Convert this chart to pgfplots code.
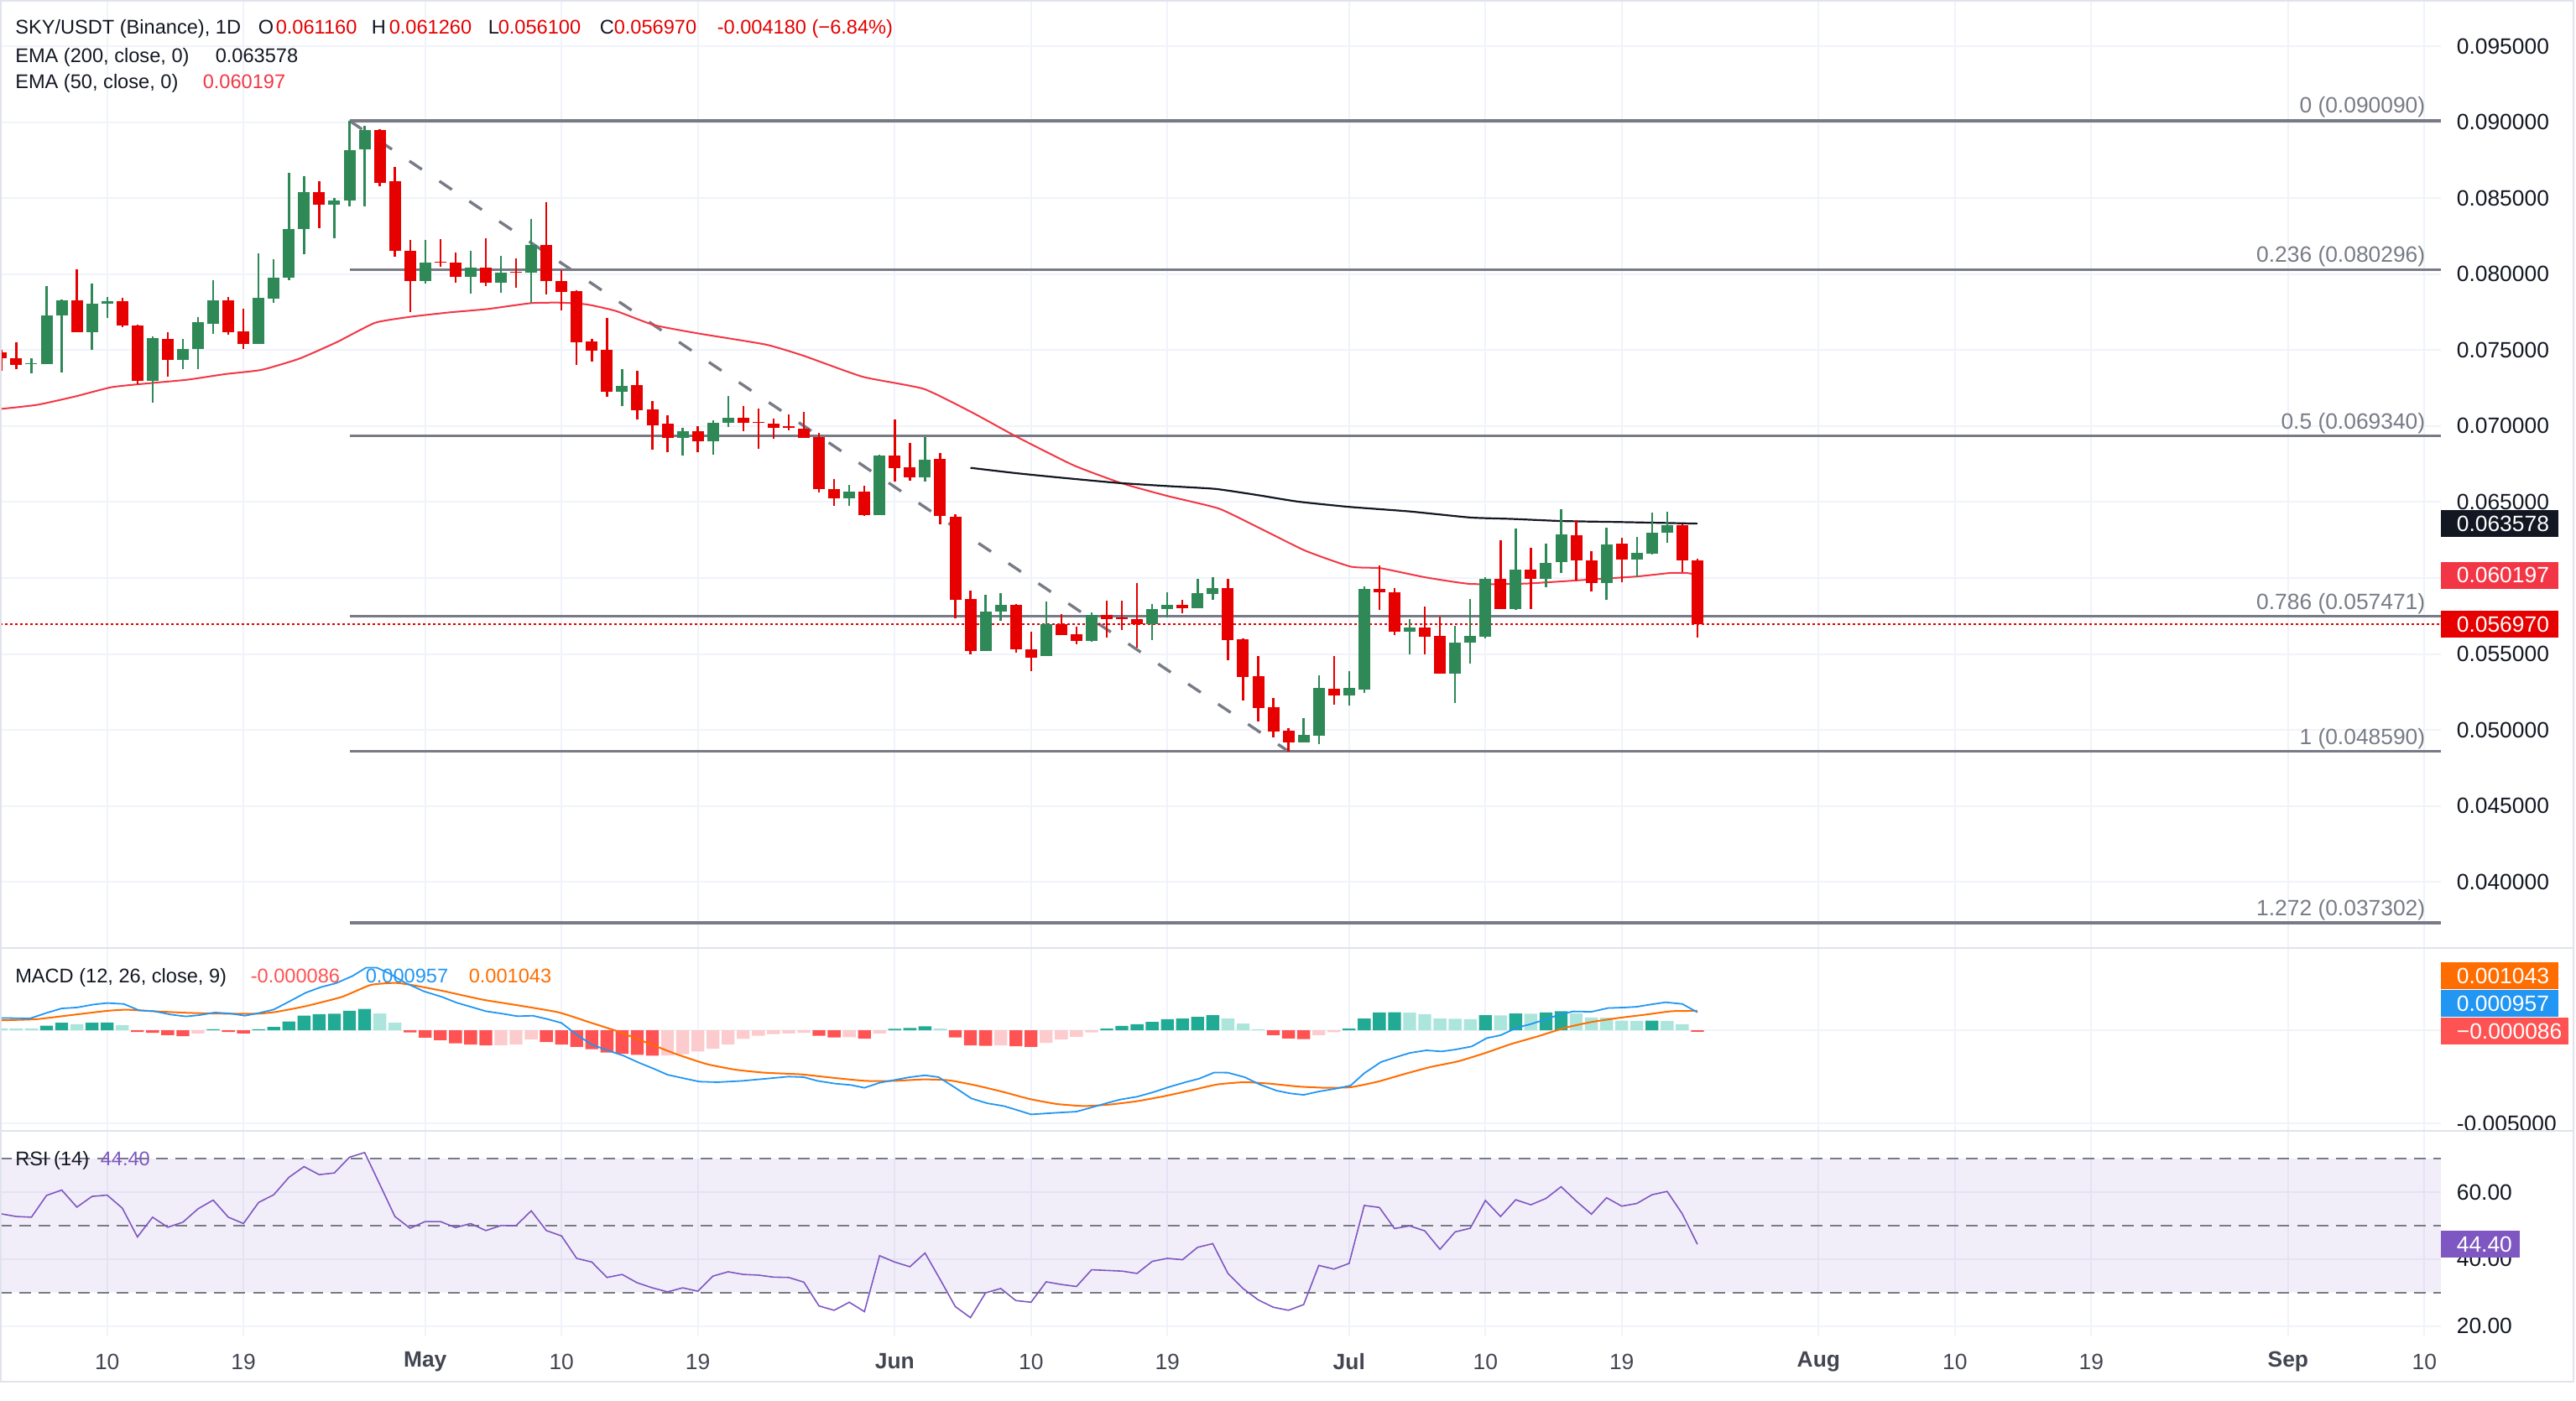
\documentclass[border=0pt]{standalone}
\usepackage{pgfplots}
\pgfplotsset{compat=1.18}
\usepackage{pgfplotstable}
\usepackage{fontspec}
\setmainfont{Liberation Sans}
\definecolor{cUp}{RGB}{46,137,87}
\definecolor{cDn}{RGB}{230,0,0}
\definecolor{cGrid}{RGB}{240,243,250}
\definecolor{cBorder}{RGB}{224,227,235}
\definecolor{cFib}{RGB}{120,123,134}
\definecolor{cText}{RGB}{19,23,34}
\definecolor{cTick}{RGB}{67,70,81}
\definecolor{cEma}{RGB}{242,54,69}
\definecolor{cMacd}{RGB}{33,150,243}
\definecolor{cSig}{RGB}{255,109,0}
\definecolor{cHDG}{RGB}{34,171,148}
\definecolor{cHLG}{RGB}{172,229,220}
\definecolor{cHDR}{RGB}{255,82,82}
\definecolor{cHLR}{RGB}{252,203,205}
\definecolor{cRsi}{RGB}{126,87,194}
\newcommand\lf{\fontsize{5.9}{6.7}\selectfont}
\newcommand\af{\fontsize{6.6}{7.4}\selectfont}

\pgfplotstableread{
d o h l c
5 .07407 .07447 .07346 .07414
6 .07407 .07923 .07407 .07730
7 .07726 .07835 .07355 .07827
9 .07619 .07940 .07499 .07807
10 .07803 .07849 .07709 .07822
13 .07296 .07591 .07153 .07580
15 .07433 .07573 .07374 .07508
16 .07505 .07718 .07374 .07685
17 .07674 .07960 .07606 .07827
20 .07538 .08139 .07538 .07846
21 .07840 .08098 .07809 .07978
22 .07978 .08664 .07960 .08299
23 .08295 .08642 .08129 .08542
25 .08456 .08502 .08235 .08487
26 .08483 .09007 .08445 .08817
27 .08821 .08977 .08445 .08946
31 .07953 .08227 .07936 .08076
34 .07980 .08155 .07870 .08045
36 .07941 .08122 .07875 .08012
38 .08008 .08365 .07812 .08192
44 .07228 .07374 .07130 .07263
48 .06924 .06987 .06808 .06965
50 .06898 .07038 .06813 .07020
51 .07024 .07199 .06996 .07053
59 .06522 .06611 .06476 .06568
61 .06415 .06812 .06415 .06806
64 .06664 .06928 .06636 .06777
68 .05522 .05891 .05517 .05780
69 .05778 .05902 .05716 .05825
72 .05484 .05848 .05484 .05694
75 .05587 .05775 .05581 .05756
79 .05694 .05830 .05594 .05797
80 .05793 .05907 .05738 .05825
82 .05802 .05992 .05802 .05902
83 .05893 .06003 .05858 .05935
89 .04918 .05078 .04918 .04967
90 .04964 .05358 .04908 .05277
92 .05225 .05388 .05163 .05277
93 .05268 .05944 .05244 .05928
96 .05644 .05729 .05495 .05673
99 .05373 .05686 .05179 .05576
100 .05572 .05863 .05434 .05618
101 .05614 .06005 .05605 .05996
103 .05793 .06328 .05788 .06057
105 .05992 .06226 .05941 .06101
106 .06103 .06455 .06031 .06289
109 .05965 .06333 .05854 .06223
111 .06119 .06269 .06005 .06167
112 .06162 .06429 .06156 .06300
113 .06296 .06438 .06230 .06350
}\upT

\pgfplotstableread{
d o h l c
3 .07486 .07499 .07361 .07444
4 .07447 .07554 .07374 .07401
8 .07827 .08034 .07619 .07619
11 .07822 .07844 .07650 .07659
12 .07663 .07669 .07274 .07296
14 .07575 .07617 .07324 .07433
18 .07827 .07849 .07600 .07619
19 .07624 .07772 .07506 .07538
24 .08542 .08609 .08301 .08456
28 .08946 .08952 .08577 .08599
29 .08609 .08708 .08113 .08152
30 .08155 .08227 .07748 .07953
32 .08083 .08233 .08047 .08074
33 .08076 .08144 .07941 .07980
35 .08045 .08236 .07919 .07941
37 .08017 .08106 .07908 .08008
39 .08192 .08476 .07864 .07954
40 .07954 .08026 .07761 .07881
41 .07890 .07895 .07405 .07554
42 .07558 .07573 .07425 .07494
43 .07499 .07711 .07195 .07228
45 .07269 .07361 .07042 .07106
46 .07108 .07164 .06847 .07007
47 .07016 .07071 .06826 .06924
49 .06965 .07001 .06826 .06898
52 .07053 .07130 .06965 .07020
53 .07025 .07116 .06848 .07020
54 .07014 .07051 .06915 .06987
55 .06998 .07075 .06974 .06990
56 .06983 .07094 .06922 .06924
57 .06928 .06955 .06563 .06587
58 .06583 .06651 .06472 .06522
60 .06566 .06605 .06408 .06412
62 .06806 .07044 .06633 .06725
63 .06729 .06891 .06642 .06660
65 .06785 .06822 .06352 .06407
66 .06405 .06420 .05734 .05858
67 .05863 .05919 .05498 .05522
70 .05825 .05830 .05511 .05530
71 .05531 .05648 .05388 .05478
73 .05697 .05764 .05627 .05627
74 .05631 .05677 .05566 .05587
76 .05756 .05852 .05609 .05732
77 .05738 .05852 .05660 .05727
78 .05732 .05968 .05539 .05694
81 .05825 .05858 .05766 .05802
84 .05935 .05996 .05461 .05594
85 .05598 .05605 .05194 .05351
86 .05354 .05489 .05056 .05146
87 .05148 .05211 .04951 .04991
88 .04995 .05014 .04859 .04918
91 .05272 .05487 .05167 .05225
94 .05928 .06083 .05790 .05904
95 .05904 .05931 .05624 .05644
97 .05673 .05812 .05498 .05616
98 .05618 .05745 .05369 .05373
102 .05996 .06250 .05793 .05793
104 .06057 .06200 .05793 .05992
107 .06283 .06383 .05981 .06114
108 .06118 .06178 .05913 .05965
110 .06228 .06267 .05970 .06119
114 .06350 .06355 .06038 .06116
115 .06116 .06126 .05610 .05697
}\dnT

\pgfplotsset{
  pane/.style={
    scale only axis, width=727.25pt, xmin=2.925, xmax=164.09,
    axis line style={draw=none}, major tick length=0pt,
    xtick={10,19,31,40,49,62,71,80,92,101,110,123,132,141,154,163},
    xmajorgrids, ymajorgrids, grid style={cGrid, line width=0.5pt},
    xticklabels={},
    yticklabel pos=right, scaled y ticks=false,
    /pgf/number format/assume math mode=true,
    yticklabel style={anchor=west, inner sep=0pt, xshift=4.5pt, font=\af, text=cText},
  },
  wick/.style={draw=none, mark=none, error bars/.cd, y dir=plus, y explicit, error mark=none,
    error bar style={draw=#1, line width=0.6pt}},
  body/.style={draw=none, mark=none, error bars/.cd, y dir=plus, y explicit, error mark=none,
    error bar style={draw=#1, line width=3.5pt}},
}

\begin{document}
\begin{tikzpicture}
\useasboundingbox (0,0) rectangle (767.5pt,-417.25pt);

% ---------------- price pane ----------------
\begin{axis}[pane, at={(0pt,0pt)}, anchor=north west, height=282.5pt,
  ymin=0.03565, ymax=0.09804,
  ytick={0.04,0.045,0.05,0.055,0.06,0.065,0.07,0.075,0.08,0.085,0.09,0.095},
  yticklabel style={/pgf/number format/fixed, /pgf/number format/fixed zerofill, /pgf/number format/precision=6}]
% fibonacci levels
\addplot[cFib, line width=0.8pt] coordinates {(26,0.09009) (164.09,0.09009)};
\addplot[cFib, line width=0.8pt] coordinates {(26,0.080296) (164.09,0.080296)};
\addplot[cFib, line width=0.8pt] coordinates {(26,0.06934) (164.09,0.06934)};
\addplot[cFib, line width=0.8pt] coordinates {(26,0.057471) (164.09,0.057471)};
\addplot[cFib, line width=0.8pt] coordinates {(26,0.04859) (164.09,0.04859)};
\addplot[cFib, line width=0.8pt] coordinates {(26,0.037302) (164.09,0.037302)};
\addplot[cFib, line width=0.85pt, dash pattern=on 4.5pt off 6.25pt] coordinates {(26,0.09009) (88,0.04859)};
% last price line
\addplot[cDn, line width=0.33pt, dash pattern=on 0.7pt off 0.8pt] coordinates {(2.925,0.05697) (164.09,0.05697)};
% EMA 50
\addplot[cEma, line width=0.5pt, smooth, tension=0.3] coordinates {
(2.93,.07112)(5.4,.07140)(7.9,.07195)(10.3,.07256)(12.8,.07282)(15.3,.07305)(17.8,.07342)(20.2,.07370)
(22.7,.07444)(25.2,.07554)(27.7,.07680)(30.1,.07720)(32.6,.07748)(35.1,.07770)(38.0,.07809)(40.0,.07812)
(41.7,.07800)(43.6,.07757)(46.1,.07665)(49.0,.07610)(53.5,.07536)(56.0,.07462)(59.9,.07324)(63.9,.07245)
(67.1,.07090)(70.1,.06927)(73.8,.06742)(77.0,.06623)(80.0,.06540)(83.4,.06457)(86.1,.06328)(89.1,.06180)
(92.1,.06075)(94.1,.06064)(97.0,.06005)(100.0,.05961)(103.6,.05963)(107.3,.05986)(111.0,.06010)(113.2,.06033)
(114.3,.06033)(115,.06020)};
% EMA 200
\addplot[cText, line width=0.55pt, smooth, tension=0.3] coordinates {
(67,.06725)(70,.06690)(73,.06660)(76.7,.06626)(80,.06605)(83.2,.06586)(86,.06545)(88.6,.06503)(92,.06468)
(96,.06438)(100,.06398)(102.7,.06389)(106,.06375)(110,.06368)(115,.06358)};
% candles
\addplot[wick=cUp] table[x=d, y=l, y error plus expr=\thisrow{h}-\thisrow{l}] {\upT};
\addplot[wick=cDn] table[x=d, y=l, y error plus expr=\thisrow{h}-\thisrow{l}] {\dnT};
\addplot[body=cUp] table[x=d, y=o, y error plus expr=\thisrow{c}-\thisrow{o}] {\upT};
\addplot[body=cDn] table[x=d, y=c, y error plus expr=\thisrow{o}-\thisrow{c}] {\dnT};
\end{axis}

% ---------------- MACD pane ----------------
\begin{axis}[pane, at={(0pt,-282.5pt)}, anchor=north west, height=54.5pt,
  ymin=-0.005405, ymax=0.004414, ytick={-0.005},
  extra y ticks={0}, extra y tick labels={},
  extra y tick style={grid style={cGrid, line width=0.5pt}},
  yticklabel style={/pgf/number format/fixed, /pgf/number format/fixed zerofill, /pgf/number format/precision=6}]
\addplot[ybar, bar width=0.85, bar shift=0pt, fill=cHDG, draw=none] coordinates {
(6,0.00024)(7,0.0004)(9,0.0004)(10,0.00041)(17,0.00005)(20,0.00005)(21,0.00018)(22,0.00047)(23,0.00078)
(24,0.00086)(25,0.00088)(26,0.00104)(27,0.00114)(62,0.00008)(63,0.00012)(64,0.00021)(76,0.00009)(77,0.00023)
(78,0.00032)(79,0.00045)(80,0.00059)(81,0.00063)(82,0.00072)(83,0.00081)(92,0.00009)(93,0.00063)(94,0.00095)
(95,0.00096)(101,0.00081)(103,0.0009)(105,0.00095)(106,0.00102)(112,0.00051)};
\addplot[ybar, bar width=0.85, bar shift=0pt, fill=cHLG, draw=none] coordinates {
(3,0.0001)(4,0.0001)(5,0.0001)(8,0.00032)(11,0.00027)(28,0.0009)(29,0.0004)(65,0.00009)(84,0.00063)(85,0.00036)
(86,0.00005)(96,0.00094)(97,0.00086)(98,0.00063)(99,0.00062)(100,0.00059)(102,0.0008)(104,0.00089)(107,0.0009)
(108,0.00068)(109,0.00067)(110,0.00051)(111,0.0005)(113,0.00049)(114,0.00032)};
\addplot[ybar, bar width=0.85, bar shift=0pt, fill=cHDR, draw=none] coordinates {
(12,-0.00009)(13,-0.00014)(14,-0.00026)(15,-0.00032)(18,-0.00009)(19,-0.00017)(30,-0.00012)(31,-0.0004)
(32,-0.00053)(33,-0.0007)(34,-0.00077)(35,-0.00081)(39,-0.00063)(40,-0.00077)(41,-0.00089)(42,-0.00102)
(43,-0.0012)(44,-0.00127)(45,-0.00132)(46,-0.00137)(57,-0.0003)(58,-0.00039)(60,-0.00045)(66,-0.00039)
(67,-0.00081)(68,-0.00084)(70,-0.00086)(71,-0.00089)(87,-0.00026)(88,-0.00044)(89,-0.00048)(115,-0.000086)};
\addplot[ybar, bar width=0.85, bar shift=0pt, fill=cHLR, draw=none] coordinates {
(16,-0.00017)(36,-0.0008)(37,-0.00077)(38,-0.0005)(47,-0.00136)(48,-0.00129)(49,-0.00114)(50,-0.00099)
(51,-0.00077)(52,-0.00047)(53,-0.0003)(54,-0.00021)(55,-0.00017)(56,-0.00014)(59,-0.00038)(61,-0.00017)
(69,-0.00081)(72,-0.00068)(73,-0.0005)(74,-0.00035)(75,-0.00012)(90,-0.00026)(91,-0.00011)};
% signal
\addplot[cSig, line width=0.5pt, smooth, tension=0.3] coordinates {
(2.93,.00053)(5.3,.00059)(7.6,.00081)(10,.00104)(11.3,.00110)(13,.00102)(15.4,.00093)(17.7,.00089)(20,.00089)
(21.2,.00099)(23.1,.00129)(25.5,.00179)(27.4,.00243)(29,.00254)(30.1,.00243)(32.1,.00212)(34.8,.00164)
(37.1,.00134)(39.8,.00096)(41.8,.00044)(43.7,-.00006)(45.7,-.00069)(47.6,-.00129)(49.6,-.00182)(51.5,-.00212)
(53.4,-.00228)(55.8,-.00237)(58.1,-.00257)(60.1,-.00272)(62,-.00272)(63.9,-.00264)(65.6,-.00269)(67.4,-.00297)
(69.2,-.00332)(70.9,-.00369)(72.7,-.00396)(74.5,-.00407)(76.2,-.00399)(78,-.00381)(79.8,-.00354)(81.5,-.00324)
(83.3,-.00291)(85.1,-.00279)(86.8,-.00287)(88.6,-.00302)(90.4,-.00309)(92.1,-.00306)(93.9,-.00276)(95.7,-.00234)
(97.4,-.00197)(99.2,-.00167)(101,-.00122)(102.7,-.00074)(104.5,-.00032)(106.3,.00014)(108,.00044)(109.8,.00066)
(111.6,.00084)(113.3,.00102)(115,.00104)};
% MACD
\addplot[cMacd, line width=0.45pt] coordinates {
(2.93,.00066)(4.9,.00063)(6.0,.00093)(7.0,.00117)(8.0,.00122)(9.1,.00138)(10,.00146)(11.1,.00141)(12.1,.00107)
(13.1,.00102)(14.2,.00084)(15.2,.00074)(16.1,.00081)(17.1,.00095)(18.1,.00090)(19.1,.00078)(20,.00092)(21,.00111)
(22,.00153)(23.1,.00201)(24.1,.00231)(25.1,.00252)(26.2,.00291)(27.1,.00336)(27.8,.00336)(28.6,.00306)
(29.7,.00254)(30.9,.00209)(32.1,.00179)(33.1,.00147)(34,.00126)(35,.00102)(36,.00090)(37.1,.00075)(38.1,.00078)
(39.1,.00059)(40,.00039)(41,-.00024)(42,-.00077)(43,-.00107)(44.1,-.00137)(45.1,-.00174)(46.1,-.00207)
(47,-.00239)(48,-.00257)(49.1,-.00276)(50.3,-.00279)(51.9,-.00272)(53.4,-.00261)(55,-.00249)(56,-.00252)
(56.9,-.00272)(58.1,-.00287)(59.1,-.00294)(60,-.00309)(61,-.00282)(62,-.00267)(63,-.00252)(64,-.00242)
(64.9,-.00252)(66,-.00309)(67.05,-.00366)(68.1,-.00392)(69.2,-.00407)(70.1,-.00429)(71,-.00452)(72.5,-.00444)
(74,-.00437)(75.2,-.00410)(76.1,-.00389)(76.9,-.00372)(78,-.00357)(79.1,-.00332)(80.1,-.00305)(81.2,-.00279)
(82.1,-.00260)(83.1,-.00227)(84,-.00228)(85.1,-.00252)(86.1,-.00291)(87.2,-.00324)(88.1,-.00339)(89,-.00347)
(90,-.00329)(91.1,-.00314)(92.1,-.00297)(93,-.00231)(94.1,-.00171)(95,-.00147)(96,-.00122)(97.1,-.00108)
(98.1,-.00114)(99,-.00104)(100.1,-.00087)(101.1,-.00042)(102,-.00027)(103.1,.00014)(104,.00033)(105,.00059)
(105.9,.00084)(106.8,.00101)(108,.00099)(109.1,.00119)(110.2,.00122)(111,.00126)(111.9,.00138)(112.9,.00150)
(114,.00141)(115,.00096)};
\end{axis}

% ---------------- RSI pane ----------------
\begin{axis}[pane, at={(0pt,-337pt)}, anchor=north west, height=61pt,
  ymin=17.14, ymax=78.27, ytick={20,40,60},
  yticklabel style={/pgf/number format/fixed, /pgf/number format/fixed zerofill, /pgf/number format/precision=2},
  xticklabels={10,19,\textbf{May},10,19,\textbf{Jun},10,19,\textbf{Jul},10,19,\textbf{Aug},10,19,\textbf{Sep},10},
  xticklabel style={anchor=center, yshift=-7.75pt, font=\af, text=cTick}]
\addplot[draw=none, fill=cRsi, fill opacity=0.1] coordinates {(2.925,30) (164.09,30) (164.09,70) (2.925,70) (2.925,30)};
\addplot[cFib, line width=0.5pt, dash pattern=on 3.5pt off 2.3pt] coordinates {(2.925,70) (164.09,70)};
\addplot[cFib, line width=0.5pt, dash pattern=on 3.5pt off 2.3pt] coordinates {(2.925,50) (164.09,50)};
\addplot[cFib, line width=0.5pt, dash pattern=on 3.5pt off 2.3pt] coordinates {(2.925,30) (164.09,30)};
\addplot[cRsi, line width=0.4pt] coordinates {
(3,53.5)(4,52.7)(5,52.5)(6,59.0)(7,60.6)(8,55.5)(9,58.7)(10,59.1)(11,55.2)(12,46.6)(13,52.5)(14,49.5)(15,51.0)
(16,55.0)(17,57.6)(18,52.5)(19,50.6)(20,56.9)(21,59.2)(22,64.4)(23,67.6)(24,65.2)(25,65.7)(26,70.4)(27,71.8)
(28,62.3)(29,52.7)(30,49.2)(31,51.2)(32,51.2)(33,49.4)(34,50.6)(35,48.5)(36,50.0)(37,50.0)(38,54.4)(39,48.5)
(40,46.9)(41,40.2)(42,39.1)(43,34.5)(44,35.4)(45,32.9)(46,31.4)(47,30.2)(48,31.4)(49,30.4)(50,34.9)(51,36.2)
(52,35.4)(53,35.2)(54,34.6)(55,34.5)(56,33.1)(57,26.0)(58,24.7)(59,27.1)(60,24.3)(61,41.0)(62,39.1)(63,37.7)
(64,41.8)(65,33.9)(66,25.8)(67,22.5)(68,29.9)(69,31.2)(70,27.6)(71,27.1)(72,33.2)(73,32.4)(74,31.8)(75,36.8)
(76,36.6)(77,36.4)(78,35.7)(79,39.3)(80,40.2)(81,39.8)(82,43.5)(83,44.6)(84,35.7)(85,31.2)(86,27.8)(87,25.6)
(88,24.7)(89,26.4)(90,38.1)(91,37.0)(92,38.7)(93,56.0)(94,55.4)(95,49.1)(96,49.9)(97,48.4)(98,42.9)(99,48.1)
(100,49.2)(101,57.5)(102,52.7)(103,57.7)(104,56.2)(105,58.1)(106,61.6)(107,57.3)(108,53.4)(109,58.3)(110,55.8)
(111,56.6)(112,59.2)(113,60.2)(114,53.5)(115,44.4)};
\end{axis}

% ---------------- overlay: frame, legends, labels, tags ----------------
\begin{scope}[x=0.25pt,y=-0.25pt, every node/.style={inner sep=0pt}]
\draw[cBorder, line width=0.5pt] (1,1) rectangle (3067,1647);
\draw[cBorder, line width=0.6pt] (0,1130) -- (3067,1130) (0,1348) -- (3067,1348);
% price legend
\node[anchor=base west, font=\lf, text=cText] at (17.5,40.5) {SKY/USDT (Binance), 1D};
\node[anchor=base west, font=\lf, text=cText] at (307,40.5) {O};
\node[anchor=base west, font=\lf, text=cDn] at (328,40.5) {0.061160};
\node[anchor=base west, font=\lf, text=cText] at (442,40.5) {H};
\node[anchor=base west, font=\lf, text=cDn] at (463,40.5) {0.061260};
\node[anchor=base west, font=\lf, text=cText] at (581,40.5) {L};
\node[anchor=base west, font=\lf, text=cDn] at (593,40.5) {0.056100};
\node[anchor=base west, font=\lf, text=cText] at (714,40.5) {C};
\node[anchor=base west, font=\lf, text=cDn] at (731,40.5) {0.056970};
\node[anchor=base west, font=\lf, text=cDn] at (854,40.5) {-0.004180 (−6.84\%)};
\node[anchor=base west, font=\lf, text=cText] at (17.5,75) {EMA (200, close, 0)};
\node[anchor=base west, font=\lf, text=cText] at (256,75) {0.063578};
\node[anchor=base west, font=\lf, text=cText] at (17.5,106) {EMA (50, close, 0)};
\node[anchor=base west, font=\lf, text=cEma] at (241,106) {0.060197};
% MACD legend
\node[anchor=base west, font=\lf, text=cText] at (17.5,1171) {MACD (12, 26, close, 9)};
\node[anchor=base west, font=\lf, text=cHDR] at (298,1171) {-0.000086};
\node[anchor=base west, font=\lf, text=cMacd] at (435,1171) {0.000957};
\node[anchor=base west, font=\lf, text=cSig] at (558,1171) {0.001043};
% RSI legend
\node[anchor=base west, font=\lf, text=cText] at (17.5,1389) {RSI (14)};
\node[anchor=base west, font=\lf, text=cRsi] at (119,1389) {44.40};
% fib labels
\node[anchor=base east, font=\af, text=cFib] at (2891,135) {0 (0.090090)};
\node[anchor=base east, font=\af, text=cFib] at (2891,312) {0.236 (0.080296)};
\node[anchor=base east, font=\af, text=cFib] at (2891,511) {0.5 (0.069340)};
\node[anchor=base east, font=\af, text=cFib] at (2891,726) {0.786 (0.057471)};
\node[anchor=base east, font=\af, text=cFib] at (2891,887) {1 (0.048590)};
\node[anchor=base east, font=\af, text=cFib] at (2891,1091) {1.272 (0.037302)};
% price tags
\fill[cText] (2909,608) rectangle (3049,640);
\node[anchor=west, font=\af, text=white] at (2927,624) {0.063578};
\fill[cEma] (2909,669.5) rectangle (3049,701.5);
\node[anchor=west, font=\af, text=white] at (2927,685.5) {0.060197};
\fill[cDn] (2909,728) rectangle (3049,760);
\node[anchor=west, font=\af, text=white] at (2927,744) {0.056970};
% MACD tags
\fill[cSig] (2909,1147) rectangle (3049,1179);
\node[anchor=west, font=\af, text=white] at (2927,1163) {0.001043};
\fill[cMacd] (2909,1180) rectangle (3049,1212);
\node[anchor=west, font=\af, text=white] at (2927,1196) {0.000957};
\fill[cHDR] (2909,1213) rectangle (3061,1245);
\node[anchor=west, font=\af, text=white] at (2927,1229) {−0.000086};
% RSI tag
\fill[cRsi] (2909,1467) rectangle (3003,1499);
\node[anchor=west, font=\af, text=white] at (2927,1483) {44.40};
\end{scope}
\end{tikzpicture}
\end{document}
